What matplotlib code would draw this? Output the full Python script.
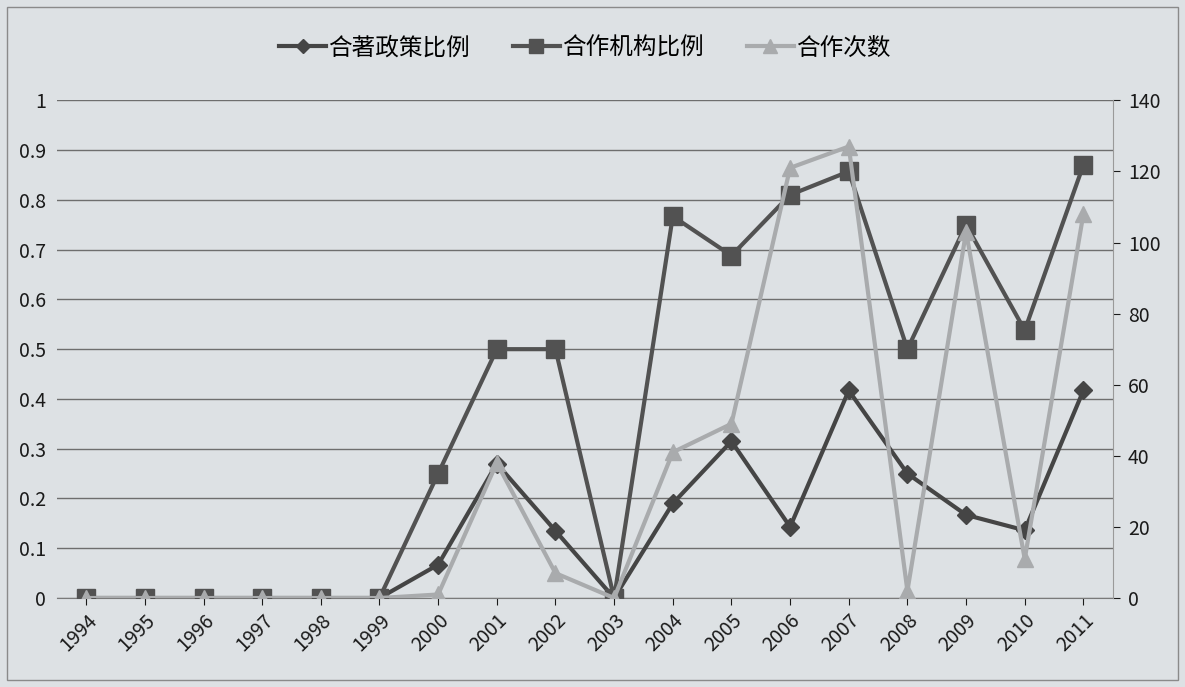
import matplotlib
matplotlib.use("Agg")
from matplotlib import pyplot as plt
from matplotlib.ticker import FuncFormatter

plt.rcParams["font.family"] = ["Noto Sans CJK SC", "DejaVu Sans"]

years = [str(y) for y in range(1994, 2012)]
policy_ratio = [0, 0, 0, 0, 0, 0, 0.067, 0.27, 0.135, 0, 0.19, 0.315, 0.143, 0.417,
                0.25, 0.167, 0.136, 0.417]
inst_ratio = [0, 0, 0, 0, 0, 0, 0.25, 0.5, 0.5, 0, 0.767, 0.688, 0.81, 0.857,
              0.5, 0.75, 0.538, 0.87]
coop_count = [0, 0, 0, 0, 0, 0, 1, 38, 7, 0, 41, 49, 121, 127, 2, 103, 11, 108]

BG = "#dde1e4"
C1, C2, C3 = "#454545", "#525252", "#a9abad"

fig = plt.figure(figsize=(11.85, 6.87), dpi=100, facecolor=BG)
ax = fig.add_axes([0.048, 0.1295, 0.891, 0.7245], facecolor=BG)
ax2 = ax.twinx()

x = list(range(len(years)))
l1, = ax.plot(x, policy_ratio, color=C1, lw=3, marker="D", ms=9, label="合著政策比例", zorder=3)
l2, = ax.plot(x, inst_ratio, color=C2, lw=3, marker="s", ms=13, label="合作机构比例", zorder=3)
l3, = ax2.plot(x, coop_count, color=C3, lw=3, marker="^", ms=12, label="合作次数", zorder=3)

ax.set_xlim(-0.5, len(years) - 0.5)
ax.set_ylim(0, 1)
ax2.set_ylim(0, 140)
ax.set_yticks([i / 10 for i in range(11)])
ax.yaxis.set_major_formatter(FuncFormatter(lambda v, p: f"{v:g}"))
ax2.set_yticks(range(0, 141, 20))
ax.set_xticks(x)
ax.set_xticklabels(years, rotation=45, ha="right", rotation_mode="anchor")
ax.grid(axis="y", color="#6e6e6e", lw=1)
ax.set_axisbelow(True)

for a in (ax, ax2):
    for s in a.spines.values():
        s.set_visible(False)
ax.spines["bottom"].set_visible(True)
ax.spines["bottom"].set_color("#7a7a7a")
ax2.spines["right"].set_visible(True)
ax2.spines["right"].set_color("#9a9a9a")
ax.tick_params(axis="y", length=0, labelsize=14, pad=8, colors="#1a1a1a")
ax.tick_params(axis="x", length=5, labelsize=14, colors="#1a1a1a", direction="out")
ax2.tick_params(axis="y", length=5, labelsize=14, pad=6, colors="#1a1a1a")

ax.legend(handles=[l1, l2, l3], loc="center", bbox_to_anchor=(0.5, 1.105),
          ncol=3, frameon=False, fontsize=17, handlelength=2.0, columnspacing=1.8,
          handletextpad=0.1, markerscale=0.8)

fig.patches.append(plt.Rectangle((0.006, 0.01), 0.988, 0.98, transform=fig.transFigure,
                                 fill=False, edgecolor="#8a8a8a", lw=1))

fig.savefig("out.png", dpi=100, facecolor=BG)
